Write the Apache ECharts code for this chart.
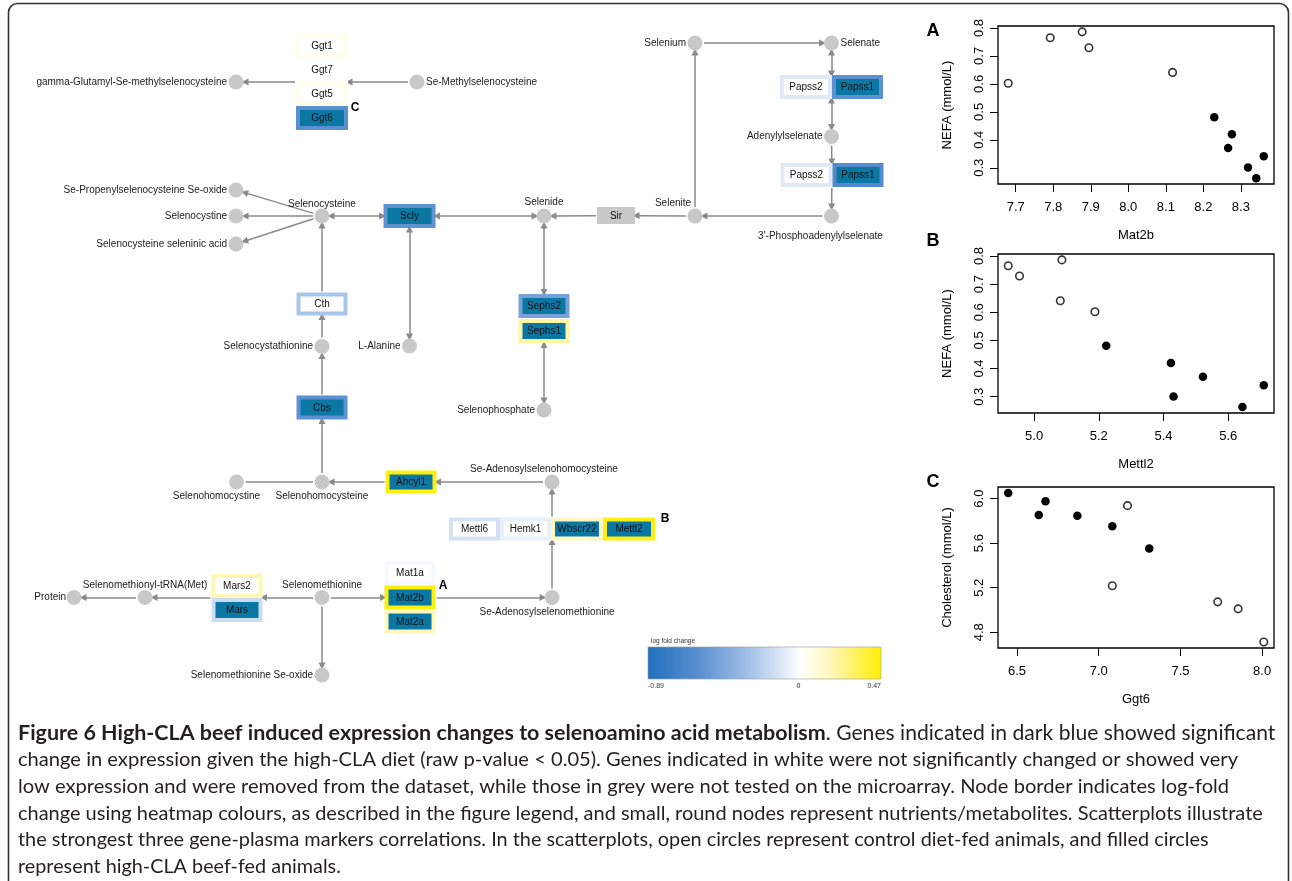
<!DOCTYPE html>
<html><head><meta charset="utf-8">
<script src="https://cdn.jsdelivr.net/npm/echarts@6/dist/echarts.min.js"></script>
<style>html,body{margin:0;padding:0;background:#fff}#c{width:1292px;height:881px}</style>
</head><body><div id="c"></div>
<script>
// ================= DATA =================
// Genes in the pathway: label, estimated log fold change (border colour), significance status
const geneIds    = ['Ggt1','Ggt7','Ggt5','Ggt6','Scly','Papss2a','Papss1a','Papss2b','Papss1b','Sir','Cth','Sephs2','Sephs1','Cbs','Ahcyl1','Mettl6','Hemk1','Wbscr22','Mettl2','Mat1a','Mat2b','Mat2a','Mars2','Mars'];
const geneLabels = ['Ggt1','Ggt7','Ggt5','Ggt6','Scly','Papss2','Papss1','Papss2','Papss1','Sir','Cth','Sephs2','Sephs1','Cbs','Ahcyl1','Mettl6','Hemk1','Wbscr22','Mettl2','Mat1a','Mat2b','Mat2a','Mars2','Mars'];
const geneLogFC  = [0.05, 0.01, 0.05, -0.59, -0.57, -0.10, -0.58, -0.10, -0.63, null, -0.28, -0.48, 0.22, -0.58, 0.45, -0.14, -0.07, 0.15, 0.44, -0.03, 0.45, 0.17, 0.18, -0.17];
const geneStatus = ['ns','ns','ns','sig','sig','ns','sig','ns','sig','untested','ns','sig','sig','sig','sig','ns','ns','sig','sig','ns','sig','sig','ns','sig'];

// Metabolites (round nodes)
const metIds   = ['gGlu','seMeCys','sePropOx','secystine','secSelen','sec','selenide','selenite','selenium','selenate','adenylyl','paps','alanine','secysta','sephos','shcystine','shcys','sah','semet','sam','trna','protein','semetOx'];
const metNames = ['gamma-Glutamyl-Se-methylselenocysteine','Se-Methylselenocysteine','Se-Propenylselenocysteine Se-oxide','Selenocystine','Selenocysteine seleninic acid','Selenocysteine','Selenide','Selenite','Selenium','Selenate','Adenylylselenate',"3'-Phosphoadenylylselenate",'L-Alanine','Selenocystathionine','Selenophosphate','Selenohomocystine','Selenohomocysteine','Se-Adenosylselenohomocysteine','Selenomethionine','Se-Adenosylselenomethionine','Selenomethionyl-tRNA(Met)','Protein','Selenomethionine Se-oxide'];

// Reactions: [from, to, kind]  s = one-way, d = two-way, p = plain
const reactions = [
  ['seMeCys','GgtStack','s'],['GgtStack','gGlu','s'],
  ['sec','sePropOx','s'],['sec','secystine','s'],['sec','secSelen','s'],
  ['sec','Scly','d'],['Scly','selenide','d'],['Sir','selenide','s'],['selenite','Sir','s'],
  ['selenite','selenium','s'],['selenium','selenate','s'],['selenate','PapssTop','d'],
  ['PapssTop','adenylyl','d'],['adenylyl','PapssBot','s'],['PapssBot','paps','s'],['paps','selenite','s'],
  ['Scly','alanine','d'],['selenide','SephsStack','d'],['SephsStack','sephos','d'],
  ['Cth','sec','s'],['secysta','Cth','s'],['Cbs','secysta','s'],['shcys','Cbs','s'],
  ['shcystine','shcys','p'],['Ahcyl1','shcys','s'],['sah','Ahcyl1','s'],
  ['MettlRow','sah','s'],['sam','MettlRow','s'],['semet','MatStack','s'],['MatStack','sam','s'],
  ['semet','MarsStack','s'],['MarsStack','trna','s'],['trna','protein','s'],['semet','semetOx','s']
];

// Colour scale (log fold change)
const legendMin = -0.89, legendMax = 0.47;
const legendTicks = ['-0.89','0','0.47'];

// Scatterplots
const nefaControl   = [0.602, 0.765, 0.786, 0.729, 0.641];
const mat2bControl  = [7.680, 7.792, 7.877, 7.895, 8.118];
const mettl2Control = [5.188, 4.920, 5.086, 4.955, 5.081];
const nefaCLA       = [0.481, 0.420, 0.371, 0.301, 0.263, 0.341];
const mat2bCLA      = [8.229, 8.276, 8.266, 8.319, 8.341, 8.361];
const mettl2CLA     = [5.223, 5.423, 5.522, 5.431, 5.644, 5.710];
const ggt6Control   = [7.176, 7.083, 7.728, 7.853, 8.010];
const cholControl   = [5.937, 5.218, 5.073, 5.010, 4.712];
const ggt6CLA       = [6.446, 6.633, 6.674, 6.869, 7.083, 7.309];
const cholCLA       = [6.051, 5.853, 5.976, 5.847, 5.753, 5.552];

const ticksMat2b  = [7.7, 7.8, 7.9, 8.0, 8.1, 8.2, 8.3];
const ticksMettl2 = [5.0, 5.2, 5.4, 5.6];
const ticksGgt6   = [6.5, 7.0, 7.5, 8.0];
const ticksNEFA   = [0.3, 0.4, 0.5, 0.6, 0.7, 0.8];
const ticksChol   = [4.8, 5.2, 5.6, 6.0];

const captionLines = [
  ['Figure 6 High-CLA beef induced expression changes to selenoamino acid metabolism', '. Genes indicated in dark blue showed significant'],
  ['', 'change in expression given the high-CLA diet (raw p-value < 0.05). Genes indicated in white were not significantly changed or showed very'],
  ['', 'low expression and were removed from the dataset, while those in grey were not tested on the microarray. Node border indicates log-fold'],
  ['', 'change using heatmap colours, as described in the figure legend, and small, round nodes represent nutrients/metabolites. Scatterplots illustrate'],
  ['', 'the strongest three gene-plasma markers correlations. In the scatterplots, open circles represent control diet-fed animals, and filled circles'],
  ['', 'represent high-CLA beef-fed animals.']
];

// ================= LAYOUT (diagram coordinates, px) =================
const geneLayout = {
  Ggt1:[322,46,52,24], Ggt7:[322,70,52,24], Ggt5:[322,94,52,24], Ggt6:[322,118,52,24],
  Scly:[409.5,216,52,24],
  Papss2a:[806,87,52,24], Papss1a:[857.5,87,51,24], Papss2b:[806.5,175,52,24], Papss1b:[858,175,51,24],
  Sir:[616,215.5,38,17],
  Cth:[322,304,51,23], Sephs2:[544,306,51,24], Sephs1:[544,331,51,24], Cbs:[322,407.5,51,24],
  Ahcyl1:[411,482,51,23],
  Mettl6:[474.5,529,51,23], Hemk1:[525.5,529,51,23], Wbscr22:[577,529,52,23], Mettl2:[629,529,52,23],
  Mat1a:[410,573,51,24], Mat2b:[410,597.5,51,24], Mat2a:[410,621.5,51,24],
  Mars2:[237,586,51,24], Mars:[237,610,51,24]
};
const stackLayout = {
  GgtStack:[322,82,26,48], PapssTop:[831.5,87,51,12], PapssBot:[832,175,51,12],
  SephsStack:[544,318.5,25.5,25], MettlRow:[552,529,103,11.5], MatStack:[410,597.5,25.5,36], MarsStack:[237,597.5,25.5,24]
};
// [x, y, labelDx, labelDy, align]
const metLayout = {
  gGlu:[236,82,-9,0,'right'], seMeCys:[417,82,9,0,'left'],
  sePropOx:[236,190,-9,0,'right'], secystine:[236,216,-9,0,'right'], secSelen:[236,244,-9,0,'right'],
  sec:[322,216,0,-12,'center'], selenide:[544,216,0,-14,'center'], selenite:[695,216,-22,-12.5,'center'],
  selenium:[695,43,-9,0,'right'], selenate:[831.5,43,9,0,'left'], adenylyl:[831.5,136.5,-9,0,'right'],
  paps:[831.5,216,-11,20,'center'], alanine:[409.5,346,-9,0,'right'], secysta:[322,346.5,-9,0,'right'],
  sephos:[544,410,-9,0,'right'], shcystine:[236.5,482,-20,14,'center'], shcys:[322,482,0,14,'center'],
  sah:[552,482,-8,-13,'center'], semet:[322,597.5,0,-12.5,'center'], sam:[552,597.5,-5,14.5,'center'],
  trna:[145,597.5,0,-12.5,'center'], protein:[74,597.5,-8,0,'right'], semetOx:[322,675,-9,0,'right']
};
const NODE_R = 7.5;
// caption line target extents (px): [start of regular part, right end]
const captionExtents = [[826,1276],[18,1239],[18,1230],[18,1264],[18,1209],[18,341]];

// ================= HELPERS =================
const legendStops = [[0,'#2170bd'],[0.22,'#5a8fd0'],[0.45,'#a9c5ea'],[0.654,'#ffffff'],[0.8,'#fff6b0'],[1,'#ffee00']];
function hex2rgb(h){return [1,3,5].map(i=>parseInt(h.substr(i,2),16));}
function lfcColor(v){
  const t = Math.max(0, Math.min(1, (v - legendMin) / (legendMax - legendMin)));
  for (let i = 1; i < legendStops.length; i++) {
    if (t <= legendStops[i][0]) {
      const [t0,c0] = legendStops[i-1], [t1,c1] = legendStops[i];
      const f = (t - t0) / (t1 - t0), a = hex2rgb(c0), b = hex2rgb(c1);
      return 'rgb(' + a.map((x,k)=>Math.round(x + (b[k]-x)*f)).join(',') + ')';
    }
  }
  return legendStops[legendStops.length-1][1];
}
function anchorOf(id){
  if (metLayout[id]) return {x:metLayout[id][0], y:metLayout[id][1], circle:true};
  const g = geneLayout[id] ? [geneLayout[id][0],geneLayout[id][1],geneLayout[id][2]/2,geneLayout[id][3]/2] : stackLayout[id];
  return {x:g[0], y:g[1], hx:g[2], hy:g[3]};
}
function extent(a, ux, uy){
  if (a.circle) return NODE_R + 1.5;
  const ex = Math.abs(ux) > 1e-6 ? a.hx/Math.abs(ux) : Infinity;
  const ey = Math.abs(uy) > 1e-6 ? a.hy/Math.abs(uy) : Infinity;
  return Math.min(ex, ey) + 1;
}
function edgeCoords(from, to){
  const a = anchorOf(from), b = anchorOf(to);
  const dx = b.x - a.x, dy = b.y - a.y, L = Math.hypot(dx, dy), ux = dx/L, uy = dy/L;
  const s = extent(a, ux, uy), e = extent(b, -ux, -uy);
  return [[a.x + ux*s, a.y + uy*s], [b.x - ux*e, b.y - uy*e]];
}
function rPad(arr, side){
  const mn = Math.min(...arr), mx = Math.max(...arr), r = mx - mn;
  return side === 'min' ? mn - 0.04*r : mx + 0.04*r;
}
function zip(xs, ys){ return xs.map((x,i)=>[x, ys[i]]); }
function fitSize(text, family, weight, targetW){
  const ctx = document.createElement('canvas').getContext('2d');
  ctx.font = weight + ' 100px ' + family;
  return 100 * targetW / ctx.measureText(text).width;
}

// ================= OPTION =================
const DIAG_FONT = '"Liberation Sans", Arial, sans-serif';
const SIG_FILL = '#0b78a4', UNTESTED_FILL = '#c8c8c8';

const geneData = geneIds.map((id,i)=>{
  const L = geneLayout[id];
  return {value:[L[0],L[1],L[2],L[3]], name:geneLabels[i],
    border: geneStatus[i]==='untested' ? UNTESTED_FILL : lfcColor(geneLogFC[i]),
    fill: geneStatus[i]==='sig' ? SIG_FILL : (geneStatus[i]==='untested' ? UNTESTED_FILL : '#ffffff')};
});

const metData = metIds.map((id,i)=>{
  const L = metLayout[id];
  return {value:[L[0],L[1]], name:metNames[i],
    label:{show:true, formatter:'{b}', position:[NODE_R+L[2], NODE_R+L[3]], align:L[4], verticalAlign:'middle'}};
});

const edgesBy = k => reactions.filter(r=>r[2]===k).map(r=>({coords: edgeCoords(r[0], r[1])}));
const lineBase = {type:'lines', coordinateSystem:'cartesian2d', xAxisIndex:0, yAxisIndex:0, silent:true, z:1,
  symbolSize:7, lineStyle:{color:'#8a8a8a', width:1.5, opacity:1, curveness:0}};

const scatterGrid = (top, height) => ({left:998, width:276, top:top, height:height, show:true, borderColor:'#000', borderWidth:1.3, backgroundColor:'transparent'});
const axisCommon = {type:'value', axisLine:{show:false}, splitLine:{show:false},
  axisTick:{show:true, length:8, lineStyle:{color:'#000', width:1}},
  nameTextStyle:{fontFamily:DIAG_FONT, fontSize:13, color:'#000'}, nameLocation:'middle'};
function xAx(gi, vals, ticks, name){
  return Object.assign({}, axisCommon, {gridIndex:gi, min:rPad(vals,'min'), max:rPad(vals,'max'), name:name, nameGap:45,
    axisTick:Object.assign({}, axisCommon.axisTick, {customValues:ticks}),
    axisLabel:{customValues:ticks, formatter:v=>v.toFixed(1), fontFamily:DIAG_FONT, fontSize:13, color:'#000', margin:17, hideOverlap:false}});
}
function yAx(gi, vals, ticks, name){
  return Object.assign({}, axisCommon, {gridIndex:gi, min:rPad(vals,'min'), max:rPad(vals,'max'), name:name, nameGap:44, nameRotate:90,
    axisTick:Object.assign({}, axisCommon.axisTick, {customValues:ticks}),
    axisLabel:{customValues:ticks, formatter:v=>v.toFixed(1), rotate:90, fontFamily:DIAG_FONT, fontSize:13, color:'#000', margin:12, hideOverlap:false}});
}
const openSym = {symbol:'circle', symbolSize:7.5, itemStyle:{color:'#fff', borderColor:'#000', borderWidth:1.6}};
const fillSym = {symbol:'circle', symbolSize:8.5, itemStyle:{color:'#000', opacity:1}};

const nefaAll = nefaControl.concat(nefaCLA);
const CAP_FONT = 'Lato, "Open Sans", sans-serif';
const capBoldSize = fitSize(captionLines[0][0], 'Lato', 'bold', 808);

const graphics = [
  {type:'rect', shape:{x:8.5, y:3.5, width:1280, height:980, r:9}, style:{fill:'none', stroke:'#333', lineWidth:1.6}, z:100},
  // colour legend
  {type:'rect', shape:{x:648, y:647, width:233, height:32},
   style:{fill:new echarts.graphic.LinearGradient(0,0,1,0, legendStops.map(s=>({offset:s[0], color:s[1]}))), stroke:'#9a9a9a', lineWidth:0.6}},
  {type:'text', x:651, y:641, style:{text:'log fold change', fontSize:6.5, fontFamily:DIAG_FONT, fill:'#333', verticalAlign:'middle'}},
  {type:'text', x:648, y:686, style:{text:legendTicks[0], fontSize:7, fontFamily:DIAG_FONT, fill:'#333', align:'left', verticalAlign:'middle'}},
  {type:'text', x:648 + 233*(0 - legendMin)/(legendMax - legendMin) - 2, y:686, style:{text:legendTicks[1], fontSize:7, fontFamily:DIAG_FONT, fill:'#333', align:'center', verticalAlign:'middle'}},
  {type:'text', x:881, y:686, style:{text:legendTicks[2], fontSize:7, fontFamily:DIAG_FONT, fill:'#333', align:'right', verticalAlign:'middle'}},
  // correlation markers on diagram
  {type:'text', x:355, y:108, style:{text:'C', fontSize:12, fontWeight:'bold', fontFamily:DIAG_FONT, fill:'#000', align:'center', verticalAlign:'middle'}},
  {type:'text', x:443, y:586, style:{text:'A', fontSize:12, fontWeight:'bold', fontFamily:DIAG_FONT, fill:'#000', align:'center', verticalAlign:'middle'}},
  {type:'text', x:665, y:519, style:{text:'B', fontSize:12, fontWeight:'bold', fontFamily:DIAG_FONT, fill:'#000', align:'center', verticalAlign:'middle'}},
  // panel letters
  {type:'text', x:933, y:31, style:{text:'A', fontSize:18, fontWeight:'bold', fontFamily:DIAG_FONT, fill:'#000', align:'center', verticalAlign:'middle'}},
  {type:'text', x:933, y:241, style:{text:'B', fontSize:18, fontWeight:'bold', fontFamily:DIAG_FONT, fill:'#000', align:'center', verticalAlign:'middle'}},
  {type:'text', x:933, y:482, style:{text:'C', fontSize:18, fontWeight:'bold', fontFamily:DIAG_FONT, fill:'#000', align:'center', verticalAlign:'middle'}}
];
captionLines.forEach((ln,i)=>{
  const ext = captionExtents[i];
  const regSize = fitSize(ln[1], 'Lato', 'normal', ext[1] - ext[0]);
  graphics.push({type:'text', x:18, y:733.3 + i*26.7, style:{
    text:(ln[0] ? '{b|' + ln[0] + '}' : '') + '{r|' + ln[1] + '}',
    verticalAlign:'middle',
    rich:{b:{fontFamily:CAP_FONT, fontSize:capBoldSize, fontWeight:'bold', fill:'#231f20'},
          r:{fontFamily:CAP_FONT, fontSize:regSize, fill:'#231f20'}}}});
});

const option = {
  animation:false,
  backgroundColor:'#ffffff',
  grid:[
    {left:0, top:0, width:1292, height:881, show:false},
    scatterGrid(26,158), scatterGrid(254,159), scatterGrid(487,161)
  ],
  xAxis:[
    {type:'value', gridIndex:0, min:0, max:1292, show:false},
    xAx(1, mat2bControl.concat(mat2bCLA), ticksMat2b, 'Mat2b'),
    xAx(2, mettl2Control.concat(mettl2CLA), ticksMettl2, 'Mettl2'),
    xAx(3, ggt6Control.concat(ggt6CLA), ticksGgt6, 'Ggt6')
  ],
  yAxis:[
    {type:'value', gridIndex:0, min:0, max:881, inverse:true, show:false},
    yAx(1, nefaAll, ticksNEFA, 'NEFA (mmol/L)'),
    yAx(2, nefaAll, ticksNEFA, 'NEFA (mmol/L)'),
    yAx(3, cholControl.concat(cholCLA), ticksChol, 'Cholesterol (mmol/L)')
  ],
  graphic:graphics,
  series:[
    Object.assign({}, lineBase, {symbol:['none','triangle'], data:edgesBy('s')}),
    Object.assign({}, lineBase, {symbol:['triangle','triangle'], data:edgesBy('d')}),
    Object.assign({}, lineBase, {symbol:['none','none'], data:edgesBy('p')}),
    {type:'scatter', xAxisIndex:0, yAxisIndex:0, symbolSize:NODE_R*2, z:3, silent:true,
     itemStyle:{color:'#c8c8c8', opacity:1},
     label:{show:true, formatter:'{b}', fontFamily:DIAG_FONT, fontSize:10, color:'#1a1a1a'},
     data:metData},
    {type:'custom', xAxisIndex:0, yAxisIndex:0, z:4, silent:true, data:geneData,
     renderItem:(params, api)=>{
       const d = geneData[params.dataIndex];
       const c = api.coord([api.value(0), api.value(1)]);
       const s = api.size([api.value(2), api.value(3)]).map(Math.abs);
       const x = c[0]-s[0]/2, y = c[1]-s[1]/2, b = 4;
       return {type:'group', children:[
         {type:'rect', shape:{x:x, y:y, width:s[0], height:s[1]}, style:{fill:d.border}},
         {type:'rect', shape:{x:x+b, y:y+b, width:s[0]-2*b, height:s[1]-2*b}, style:{fill:d.fill}},
         {type:'text', x:c[0], y:c[1]+0.5, style:{text:d.name, fontFamily:DIAG_FONT, fontSize:10, fill:'#111', align:'center', verticalAlign:'middle'}}
       ]};
     }},
    Object.assign({type:'scatter', xAxisIndex:1, yAxisIndex:1, data:zip(mat2bControl, nefaControl)}, openSym),
    Object.assign({type:'scatter', xAxisIndex:1, yAxisIndex:1, data:zip(mat2bCLA, nefaCLA)}, fillSym),
    Object.assign({type:'scatter', xAxisIndex:2, yAxisIndex:2, data:zip(mettl2Control, nefaControl)}, openSym),
    Object.assign({type:'scatter', xAxisIndex:2, yAxisIndex:2, data:zip(mettl2CLA, nefaCLA)}, fillSym),
    Object.assign({type:'scatter', xAxisIndex:3, yAxisIndex:3, data:zip(ggt6Control, cholControl)}, openSym),
    Object.assign({type:'scatter', xAxisIndex:3, yAxisIndex:3, data:zip(ggt6CLA, cholCLA)}, fillSym)
  ]
};
const chart = echarts.init(document.getElementById('c'), null, {renderer:'canvas'});
chart.setOption(option);
</script>
</body></html>
